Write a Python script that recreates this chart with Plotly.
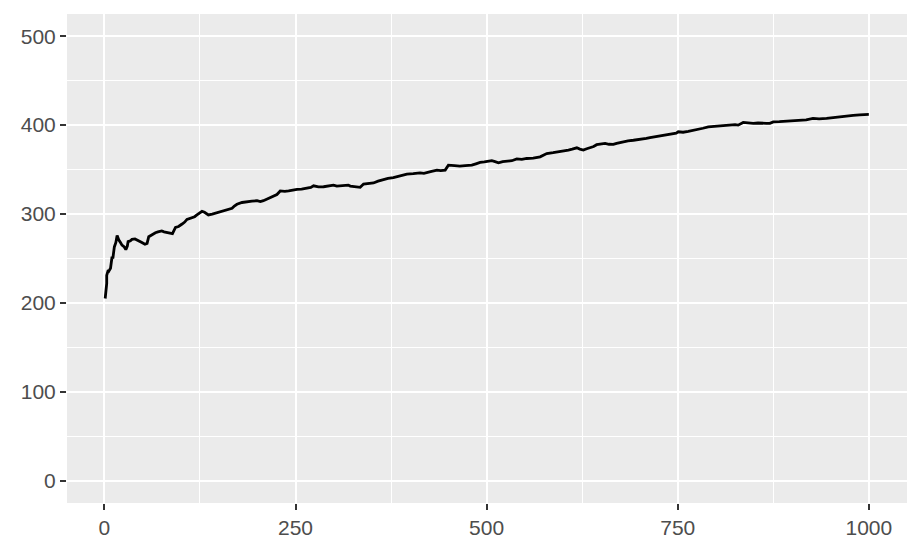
import plotly.graph_objects as go

# Data (step index vs. running value)
steps = [1, 2, 3, 3, 4, 5, 6, 8, 10, 11, 13, 15, 16.6, 18.7, 21, 23, 26, 28, 30, 31, 34, 36, 40, 42.7, 46, 49, 53, 55.8, 58,
         62, 66.7, 70, 75, 78, 82, 86, 89, 93, 97, 101.6, 105, 108, 111, 114.6, 118, 121, 124, 127.7, 131, 136, 141,
         147, 151, 156, 161, 167, 170, 173.4, 180, 186.5, 193, 199.6, 204, 208, 213, 217, 222, 225.7, 230, 236, 241,
         246, 252, 258, 265, 270, 273.6, 280, 286.7, 293, 299.7, 304, 308.5, 314, 319, 321.6, 328, 334.6, 339,
         345, 352, 358, 365, 371, 378, 386, 395.7, 404, 413, 418, 421.8, 428, 435, 440, 445.8, 450, 458, 465,
         472, 480.6, 486, 491.5, 497, 502, 506.8, 511, 515.5, 521, 526.4, 533, 539.5, 546, 552.5, 561, 570,
         574, 578.7, 587, 596, 601, 607, 612, 618, 622, 626.5, 631, 635, 640, 644, 650, 655, 660, 665.8, 670,
         674.5, 680, 685, 692, 698, 705, 709, 713.7, 720, 726.8, 735, 744, 748, 750.7, 757, 763.8, 770, 776.9,
         783, 790, 797, 805, 812, 820.5, 825, 829, 832, 835.7, 842, 848.8, 855, 861.8, 866, 870.6, 875, 883,
         892, 900, 910, 918, 927, 935, 944.7, 953, 962, 970, 979.5, 988, 995, 1000]
values = [205, 212, 222, 231, 233, 237, 236, 239, 252, 250, 263, 268, 276, 271, 268, 265, 263, 260, 264, 269, 270, 271.5, 272, 271, 269, 268, 266, 267, 274.5,
          277, 279, 280, 281, 280, 279.5, 279, 278, 285, 286, 288.8, 291, 294, 295, 296, 297, 299, 301, 303, 302, 299, 300,
          301.5, 303, 304.5, 305, 306.4, 309, 311, 313, 314, 314.5, 315, 314, 315, 317, 318, 320, 322, 326, 325.5, 326,
          327, 327.7, 328, 329, 330, 331.8, 330.5, 330.7, 331.5, 332.6, 331.5, 331.8, 332, 332.6, 331.5, 331, 330, 333.7,
          334, 335, 337, 339, 340, 341, 343, 345, 345.5, 346.4, 345.8, 346.4, 348, 349.4, 348.8, 349.4, 355, 354.5, 354,
          354.5, 355, 356.5, 358, 358.6, 359.6, 360, 359, 357.7, 359, 359.6, 360, 362, 361.5, 362.5, 363, 364.4,
          366, 368, 369, 370, 371, 372, 373, 374.5, 373, 372, 373.5, 374.5, 376, 378, 378.6, 379.4, 378.5, 378.3, 379.5,
          380.5, 381.5, 382.4, 383, 383.5, 384, 385, 386, 387, 388, 389, 390, 391, 392.5, 392, 393, 394, 395,
          396.5, 398, 398.5, 399, 399.8, 400.8, 400.5, 400, 401.5, 403, 402.5, 402, 402.4, 402.6, 402, 402, 403.7, 404,
          404.5, 404.8, 405, 406, 407.5, 407, 407.5, 408.5, 409.4, 410, 411, 411.5, 412, 412]

x_ticks = [0, 250, 500, 750, 1000]
y_ticks = [0, 100, 200, 300, 400, 500]

fig = go.Figure()
fig.add_trace(go.Scatter(x=steps, y=values, mode="lines",
                         line=dict(color="black", width=2.8), showlegend=False,
                         hoverinfo="skip"))

axis_common = dict(
    showgrid=True, gridcolor="white", gridwidth=2,
    minor=dict(showgrid=True, gridcolor="white", gridwidth=1),
    zeroline=False, showline=False, automargin=False,
    ticks="outside", ticklen=6, tickwidth=2, tickcolor="#333333",
    tickfont=dict(family="Liberation Sans, Arial, sans-serif", size=21, color="#4D4D4D"),
)

fig.update_xaxes(range=[-48.95, 1049.95], tickvals=x_ticks,
                 minor_tickvals=[125, 375, 625, 875], **axis_common)
fig.update_yaxes(range=[-25, 525], tickvals=y_ticks,
                 minor_tickvals=[50, 150, 250, 350, 450], **axis_common)

fig.update_layout(
    width=913, height=544,
    margin=dict(l=59, r=14, t=6, b=49),
    paper_bgcolor="white", plot_bgcolor="#EBEBEB",
)

fig.write_html("out.html")
